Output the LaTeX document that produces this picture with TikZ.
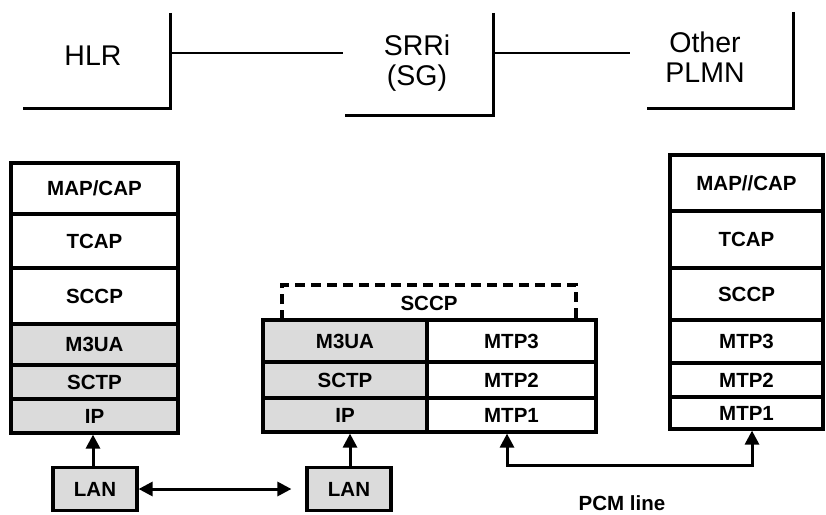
\documentclass[tikz,border=0pt]{standalone}
\usepackage{fontspec}
\setmainfont{Liberation Sans}
\usetikzlibrary{arrows.meta}
\tikzset{tri/.tip={Triangle[length=14pt,width=14pt]}}
\begin{document}
\begin{tikzpicture}[x=1pt,y=-1pt,
  layer/.style={draw, line width=3.2pt, rectangle, inner sep=0pt, font=\fontsize{20.5}{23}\selectfont\bfseries},
  shaded/.style={layer, fill=gray!28},
  topline/.style={line width=2.6pt},
  toptext/.style={font=\fontsize{28.5}{30}\selectfont, align=center},
  boxarea/.style={rectangle, inner sep=0pt},
  conn/.style={line width=3pt},
  ]
\useasboundingbox (0,0) rectangle (826,514);

% ---------- top row ----------
\node[boxarea, minimum width=147pt, minimum height=95pt] (hlr) at (96.5,60.5) {};
\node[boxarea, minimum width=148pt, minimum height=102pt] (srri) at (419,64) {};
\node[boxarea, minimum width=146pt, minimum height=96pt] (oth) at (720,60) {};
\node[toptext] (hlrt) at (93,56) {HLR};
\node[toptext] (srrit) at (417,63) {SRRi\\(SG)};
\node[toptext] (otht) at (705,57) {Other\\PLMN};
\draw[topline] (hlr.north east) -- (hlr.south east) -- (hlr.south west);
\draw[topline] (srri.north east) -- (srri.south east) -- (srri.south west);
\draw[topline] (oth.north east) -- (oth.south east) -- (oth.south west);
\coordinate (c1) at (343,53);
\coordinate (c2) at (630,53);
\draw[topline] (hlr.east |- c1) -- (c1);
\draw[topline] (srri.east |- c2) -- (c2);

% ---------- left stack ----------
\node[layer, minimum width=167pt, minimum height=51pt] (lmap) at (94.5,188.5) {MAP/CAP};
\node[layer, minimum width=167pt, minimum height=54pt] (ltcap) at (94.5,241) {TCAP};
\node[layer, minimum width=167pt, minimum height=56pt] (lsccp) at (94.5,296) {SCCP};
\node[shaded, minimum width=167pt, minimum height=41pt] (lm3ua) at (94.5,344.5) {M3UA};
\node[shaded, minimum width=167pt, minimum height=34pt] (lsctp) at (94.5,382) {SCTP};
\node[shaded, minimum width=167pt, minimum height=34pt] (lip) at (94.5,416) {IP};

% ---------- middle stack ----------
\draw[line width=3.4pt, dash pattern=on 10pt off 6pt] (282,320) -- (282,285) -- (576,285) -- (576,320);
\node[font=\fontsize{20.5}{23}\selectfont\bfseries] (msccp) at (429,303) {SCCP};
\node[shaded, minimum width=164pt, minimum height=42pt] (mm3ua) at (345,341) {M3UA};
\node[shaded, minimum width=164pt, minimum height=36pt] (msctp) at (345,380) {SCTP};
\node[shaded, minimum width=164pt, minimum height=34pt] (mip) at (345,415) {IP};
\node[layer, minimum width=169pt, minimum height=42pt] (mmtp3) at (511.5,341) {MTP3};
\node[layer, minimum width=169pt, minimum height=36pt] (mmtp2) at (511.5,380) {MTP2};
\node[layer, minimum width=169pt, minimum height=34pt] (mmtp1) at (511.5,415) {MTP1};

% ---------- right stack ----------
\node[layer, minimum width=153pt, minimum height=56pt] (rmap) at (746.5,183) {MAP//CAP};
\node[layer, minimum width=153pt, minimum height=57pt] (rtcap) at (746.5,239.5) {TCAP};
\node[layer, minimum width=153pt, minimum height=52pt] (rsccp) at (746.5,294) {SCCP};
\node[layer, minimum width=153pt, minimum height=43pt] (rmtp3) at (746.5,341.5) {MTP3};
\node[layer, minimum width=153pt, minimum height=34pt] (rmtp2) at (746.5,380) {MTP2};
\node[layer, minimum width=153pt, minimum height=32pt] (rmtp1) at (746.5,413) {MTP1};

% ---------- LAN boxes ----------
\node[shaded, minimum width=84pt, minimum height=43pt] (lan1) at (95,489) {LAN};
\node[shaded, minimum width=84pt, minimum height=43pt] (lan2) at (349,489) {LAN};

\draw[conn, -tri] (lan1.north -| 93,0) -- (lip.south -| 93,0);
\draw[conn, -tri] (lan2.north -| 350,0) -- (mip.south -| 350,0);
\draw[conn, tri-tri, shorten >=14pt] (lan1.east) -- (lan2.west);

% ---------- PCM line ----------
\coordinate (pa) at (507,465);
\coordinate (pb) at (752,465);
\draw[conn, tri-tri] (pa |- mmtp1.south) -- (pa) -- (pb) -- (pb |- rmtp1.south);
\node[font=\fontsize{20.5}{23}\selectfont\bfseries] (pcm) at (622,503) {PCM line};
\end{tikzpicture}
\end{document}
